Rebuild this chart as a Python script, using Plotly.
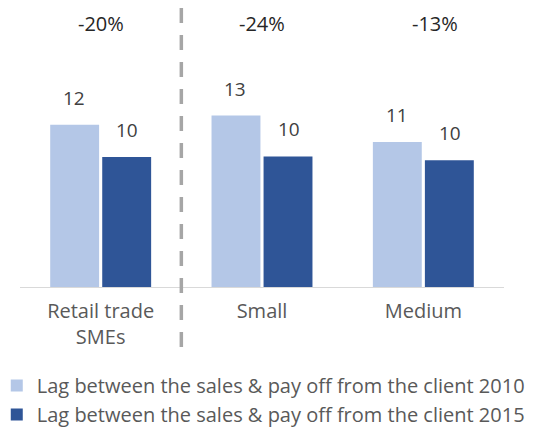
import plotly.graph_objects as go

categories = ["Retail trade<br>SMEs", "Small", "Medium"]
lag_2010 = [12.3, 13.0, 11.0]
lag_2015 = [9.85, 9.9, 9.6]
changes = ["-20%", "-24%", "-13%"]
series_names = [
    "Lag between the sales & pay off from the client 2010",
    "Lag between the sales & pay off from the client 2015",
]

FONT = "Open Sans"
LIGHT = "#b4c7e7"
DARK = "#2f5597"

fig = go.Figure()
fig.add_trace(go.Bar(x=categories, y=lag_2010, name=series_names[0],
                     marker=dict(color=LIGHT, line=dict(width=0))))
fig.add_trace(go.Bar(x=categories, y=lag_2015, name=series_names[1],
                     marker=dict(color=DARK, line=dict(width=0))))

# value labels above bars
for i, cat in enumerate(categories):
    for vals, off in ((lag_2010, -0.165), (lag_2015, 0.165)):
        fig.add_annotation(x=i + off, y=vals[i], xref="x", yref="y",
                           text=f"{vals[i]:.0f}", showarrow=False,
                           yanchor="bottom", yshift=12,
                           font=dict(family=FONT, size=19, color="#404040"))

# percent change labels
for i, ch in enumerate(changes):
    fig.add_annotation(x=i, y=20.0, xref="x", yref="y", text=ch,
                       showarrow=False, xshift=(12 if i == 2 else 0),
                       font=dict(family=FONT, size=20, color="#262626"))

# dashed separator (drawn top-down so the dash pattern starts at the top)
fig.add_shape(type="line", xref="paper", yref="paper", x0=1/3, x1=1/3,
              y0=1.007, y1=-0.217,
              line=dict(color="#a6a6a6", width=3.5, dash="15px,12px"))

fig.update_layout(
    width=543, height=424,
    margin=dict(l=12, r=47, t=2, b=145, autoexpand=False),
    paper_bgcolor="white", plot_bgcolor="white",
    barmode="group", bargap=0.355, bargroupgap=0.06,
    showlegend=True,
    legend=dict(orientation="v", x=-0.048, xanchor="left", y=-0.285, yanchor="top",
                font=dict(family=FONT, size=20, color="#595959"),
                bgcolor="rgba(0,0,0,0)", tracegroupgap=0, itemsizing="constant"),
    font=dict(family=FONT, color="#595959"),
)
fig.update_xaxes(type="category", range=[-0.5, 2.5], showline=True,
                 linecolor="#d9d9d9", linewidth=1, ticks="",
                 ticklabelstandoff=6,
                 tickfont=dict(family=FONT, size=20, color="#595959"),
                 showgrid=False, zeroline=False)
fig.update_yaxes(range=[0, 21], visible=False, showgrid=False, zeroline=False)

fig.write_html("out.html")
